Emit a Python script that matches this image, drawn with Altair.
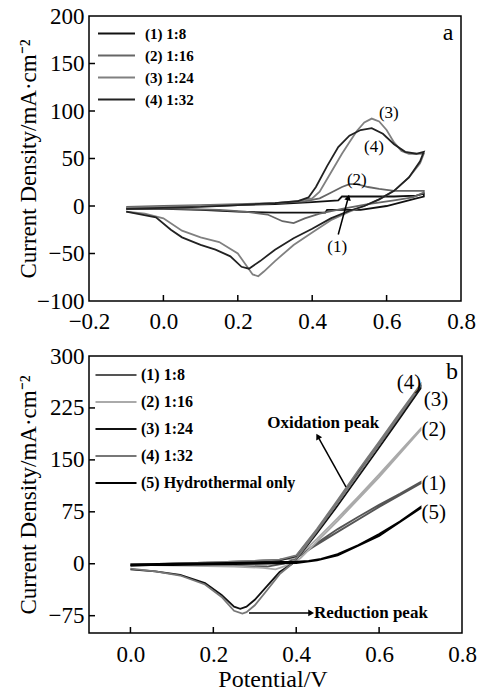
import altair as alt
import pandas as pd

FONT = "Liberation Serif"

# ---------------- Panel a data (CV loops) ----------------
a_names = ["(1) 1:8", "(2) 1:16", "(3) 1:24", "(4) 1:32"]
a_colors = ["#111111", "#666666", "#808080", "#222222"]

a1_x = [-0.1, 0.0, 0.1, 0.2, 0.3, 0.4, 0.47, 0.48, 0.55, 0.62, 0.68, 0.70,
        0.70, 0.68, 0.60, 0.53, 0.44, 0.435, 0.30, 0.20, 0.10, 0.0, -0.1]
a1_y = [-2, -1, 0, 1, 2, 4, 6, 10, 10, 10, 11, 13,
        10, 8, 0, -4, -4, -7, -7, -6, -4, -3, -3]

a2_x = [-0.1, 0.0, 0.1, 0.2, 0.3, 0.38, 0.42, 0.45, 0.48, 0.50, 0.52, 0.55, 0.58, 0.62, 0.66, 0.70,
        0.70, 0.67, 0.62, 0.55, 0.48, 0.42, 0.38, 0.35, 0.32, 0.28, 0.22, 0.15, 0.05, -0.1]
a2_y = [-1, 0, 1, 2, 3, 5, 8, 14, 20, 23, 23, 20, 18, 16, 16, 16,
        14, 9, 6, 2, -3, -8, -13, -18, -16, -9, -6, -4, -3, -2]

a3_x = [-0.1, 0.0, 0.1, 0.2, 0.3, 0.36, 0.40, 0.42, 0.45, 0.48, 0.50, 0.52, 0.54, 0.56, 0.58, 0.60,
        0.62, 0.64, 0.66, 0.70,
        0.70, 0.69, 0.66, 0.62, 0.58, 0.54, 0.50, 0.45, 0.40, 0.35, 0.30, 0.27, 0.255, 0.24, 0.20,
        0.15, 0.10, 0.05, 0.0, -0.05, -0.1]
a3_y = [-2, -1, 0, 1, 3, 5, 8, 15, 35, 55, 67, 79, 88, 92, 89, 80,
        67, 58, 55, 55,
        55, 45, 30, 16, 7, 0, -6, -15, -28, -41, -58, -69, -74, -72, -50,
        -38, -33, -26, -13, -8, -6]

a4_x = [-0.1, 0.0, 0.1, 0.2, 0.3, 0.36, 0.39, 0.41, 0.44, 0.47, 0.50, 0.53, 0.56, 0.59, 0.62, 0.65,
        0.68, 0.70,
        0.70, 0.69, 0.66, 0.62, 0.58, 0.54, 0.50, 0.45, 0.40, 0.35, 0.30, 0.26, 0.23, 0.21, 0.18,
        0.14, 0.10, 0.05, 0.02, -0.02, -0.1]
a4_y = [-3, -2, -1, 1, 3, 5, 9, 20, 42, 62, 74, 80, 82, 76, 65, 57,
        55, 57,
        57, 47, 30, 16, 7, 0, -5, -13, -24, -34, -46, -58, -66, -64, -53,
        -46, -41, -33, -25, -12, -6]

a_ticks_x = [0.0, 0.2, 0.4, 0.6]
a_ticks_y = [-50, 0, 50, 100, 150]

a_lbl_text = ["(1)", "(2)", "(3)", "(4)", "a"]
a_lbl_x = [0.467, 0.52, 0.606, 0.566, 0.765]
a_lbl_y = [-43, 27, 98, 62, 182]
a_lbl_size = [17, 17, 17, 17, 24]

a_arrow_x = [0.470, 0.497]
a_arrow_y = [-30, 9]

# ---------------- Panel b data ----------------
b_names = ["(1) 1:8", "(2) 1:16", "(3) 1:24", "(4) 1:32", "(5) Hydrothermal only"]
b_colors = ["#555555", "#aaaaaa", "#111111", "#777777", "#000000"]

b1_x = [0.0, 0.1, 0.2, 0.3, 0.36, 0.40, 0.45, 0.50, 0.55, 0.60, 0.65, 0.70,
        0.70, 0.6, 0.5, 0.44, 0.40, 0.37, 0.33, 0.25, 0.15, 0.05, 0.0]
b1_y = [-1, 0, 2, 4, 6, 8, 30, 50, 68, 85, 101, 118,
        116, 82, 46, 24, 8, 0, -4, -3, -2, -2, -2]

b2_x = [0.0, 0.1, 0.2, 0.3, 0.36, 0.40, 0.45, 0.50, 0.55, 0.60, 0.65, 0.70,
        0.70, 0.6, 0.5, 0.45, 0.41, 0.38, 0.35, 0.32, 0.25, 0.15, 0.05, 0.0]
b2_y = [-1, 0, 2, 4, 6, 8, 36, 66, 97, 129, 162, 195,
        193, 125, 62, 32, 8, -2, -8, -6, -4, -3, -2, -2]

b3_x = [0.0, 0.1, 0.2, 0.3, 0.36, 0.40, 0.45, 0.50, 0.55, 0.60, 0.65, 0.70,
        0.70, 0.65, 0.60, 0.55, 0.50, 0.45, 0.41, 0.39, 0.36, 0.33, 0.30, 0.28, 0.265, 0.25,
        0.22, 0.18, 0.12, 0.06, 0.0]
b3_y = [-3, -1, 1, 3, 5, 11, 48, 90, 132, 173, 214, 255,
        253, 210, 168, 126, 84, 44, 14, 0, -12, -32, -52, -62, -65, -62,
        -45, -28, -16, -11, -8]

b4_x = [0.0, 0.1, 0.2, 0.3, 0.36, 0.40, 0.45, 0.50, 0.55, 0.60, 0.65, 0.70,
        0.70, 0.65, 0.60, 0.55, 0.50, 0.45, 0.41, 0.39, 0.36, 0.33, 0.30, 0.28, 0.27, 0.25,
        0.22, 0.18, 0.12, 0.06, 0.0]
b4_y = [-2, 0, 2, 4, 6, 12, 50, 92, 135, 176, 218, 259,
        257, 214, 172, 130, 88, 47, 15, 0, -15, -38, -60, -70, -72, -68,
        -48, -30, -17, -11, -7]

b5_x = [0.0, 0.1, 0.2, 0.3, 0.4, 0.43, 0.46, 0.50, 0.55, 0.60, 0.65, 0.70,
        0.70, 0.6, 0.5, 0.45, 0.4, 0.3, 0.2, 0.1, 0.0]
b5_y = [-1, 0, 1, 2, 3, 4, 7, 14, 27, 43, 61, 82,
        80, 40, 12, 5, 1, 0, -1, -2, -2]

b_ticks_x = [0.0, 0.2, 0.4, 0.6]
b_ticks_y = [-75, 0, 75, 150, 225]

b_lbl_text = ["(4)", "(3)", "(2)", "(1)", "(5)", "b"]
b_lbl_x = [0.672, 0.737, 0.732, 0.732, 0.732, 0.776]
b_lbl_y = [261, 236, 193, 115, 73, 277]
b_lbl_size = [21, 21, 21, 21, 21, 24]

ox_text = ["Oxidation peak"]
ox_x = [0.465]
ox_y = [203]
red_text = ["Reduction peak"]
red_x = [0.443]
red_y = [-71]

b_ox_x = [0.520, 0.452]
b_ox_y = [111, 184]
b_red_x = [0.286, 0.436]
b_red_y = [-71, -71]


def loops(names, xs, ys):
    rows = []
    for n, xx, yy in zip(names, xs, ys):
        for i, (x, y) in enumerate(zip(xx, yy)):
            rows.append({"x": x, "y": y, "s": n, "o": i})
    return pd.DataFrame(rows)


LEG_PATH = "M-3,0H3"


def panel(df, names, colors, xdom, ydom, xvals, yvals, W, H, ticks_x, ticks_y,
          legend, show_xtitle, xlabpad):
    if show_xtitle:
        xaxis = alt.Axis(values=xvals, format=".1f", grid=False, ticks=False, domain=False,
                         labelFont=FONT, labelFontSize=23, labelColor="black",
                         labelPadding=xlabpad, labelFlush=False, labelOverlap=False,
                         title="Potential/V",
                         titleFont=FONT, titleFontSize=24, titleFontWeight="normal",
                         titleColor="black", titleBaseline="middle", titleY=46,
                         titleX=W / 2 - 3)
    else:
        xaxis = alt.Axis(values=xvals, format=".1f", grid=False, ticks=False, domain=False,
                         labelFont=FONT, labelFontSize=23, labelColor="black",
                         labelPadding=xlabpad, labelFlush=False, labelOverlap=False,
                         title=None)
    yaxis = alt.Axis(values=yvals, format="d", grid=False, ticks=False, domain=False,
                     labelFont=FONT, labelFontSize=23, labelColor="black",
                     labelPadding=5, labelOverlap=False,
                     title="Current Density/mA·cm⁻²", titleFont=FONT, titleFontSize=23,
                     titleFontWeight="normal", titleColor="black",
                     titleX=-49, titleY=H / 2, titleAlign="center", titleBaseline="bottom",
                     titleAngle=270)
    lines = alt.Chart(df).mark_line(strokeWidth=1.8).encode(
        x=alt.X("x:Q", scale=alt.Scale(domain=xdom, nice=False, zero=False), axis=xaxis),
        y=alt.Y("y:Q", scale=alt.Scale(domain=ydom, nice=False, zero=False), axis=yaxis),
        color=alt.Color("s:N", scale=alt.Scale(domain=names, range=colors), legend=legend),
        order="o:Q",
        detail="s:N",
    )
    tx = alt.Chart(pd.DataFrame({"x": ticks_x})).mark_rule(color="black", strokeWidth=1.5).encode(
        x="x:Q", y=alt.value(H), y2=alt.value(H - 6))
    ty = alt.Chart(pd.DataFrame({"y": ticks_y})).mark_rule(color="black", strokeWidth=1.5).encode(
        y="y:Q", x=alt.value(0), x2=alt.value(6))
    return lines, tx, ty


def line2(xs, ys):
    return alt.Chart(pd.DataFrame({"x": xs, "y": ys, "o": list(range(len(xs)))})).mark_line(
        color="black", strokeWidth=1.5).encode(x="x:Q", y="y:Q", order="o:Q")


def head(xs, ys, ang):
    return alt.Chart(pd.DataFrame({"x": xs[-1:], "y": ys[-1:]})).mark_point(
        shape="triangle-up", filled=True, color="black", size=45, angle=ang, opacity=1).encode(
        x="x:Q", y="y:Q")


def labels(xs, ys, ts, fs):
    return alt.Chart(pd.DataFrame({"x": xs, "y": ys, "t": ts, "fs": fs})).mark_text(
        font=FONT, color="black", align="center", baseline="middle").encode(
        x="x:Q", y="y:Q", text="t:N", size=alt.Size("fs:Q", scale=None, legend=None))


# ---- panel a ----
W1, H1 = 372, 285
dfa = loops(a_names, [a1_x, a2_x, a3_x, a4_x], [a1_y, a2_y, a3_y, a4_y])
leg_a = alt.Legend(orient="none", legendX=20, legendY=10, title=None, symbolType=LEG_PATH,
                   symbolSize=152, symbolStrokeWidth=2, labelFont=FONT, labelFontWeight="bold",
                   labelFontSize=15, labelColor="black", labelOffset=21, rowPadding=6,
                   padding=0)
la, txa, tya = panel(dfa, a_names, a_colors, [-0.2, 0.8], [-100, 200],
                     [-0.2, 0.0, 0.2, 0.4, 0.6, 0.8], [-100, -50, 0, 50, 100, 150, 200],
                     W1, H1, a_ticks_x, a_ticks_y, leg_a, False, 9)
top = alt.layer(la, txa, tya, labels(a_lbl_x, a_lbl_y, a_lbl_text, a_lbl_size),
                line2(a_arrow_x, a_arrow_y), head(a_arrow_x, a_arrow_y, 15)).properties(
    width=W1, height=H1)

# ---- panel b ----
W2, H2 = 373, 277
dfb = loops(b_names, [b1_x, b2_x, b3_x, b4_x, b5_x], [b1_y, b2_y, b3_y, b4_y, b5_y])
leg_b = alt.Legend(orient="none", legendX=19, legendY=11, title=None, symbolType=LEG_PATH,
                   symbolSize=187, symbolStrokeWidth=2, labelFont=FONT, labelFontWeight="bold",
                   labelFontSize=16, labelColor="black", labelOffset=17, rowPadding=11,
                   padding=0)
lb, txb, tyb = panel(dfb, b_names, b_colors, [-0.1, 0.8], [-100, 300],
                     [0.0, 0.2, 0.4, 0.6, 0.8], [-75, 0, 75, 150, 225, 300],
                     W2, H2, b_ticks_x, b_ticks_y, leg_b, True, 10)
ox_note = alt.Chart(pd.DataFrame({"x": ox_x, "y": ox_y, "t": ox_text})).mark_text(
    font=FONT, color="black", fontWeight="bold", fontSize=17, baseline="middle",
    align="center").encode(x="x:Q", y="y:Q", text="t:N")
red_note = alt.Chart(pd.DataFrame({"x": red_x, "y": red_y, "t": red_text})).mark_text(
    font=FONT, color="black", fontWeight="bold", fontSize=17, baseline="middle",
    align="left").encode(x="x:Q", y="y:Q", text="t:N")
bottom = alt.layer(lb, txb, tyb, labels(b_lbl_x, b_lbl_y, b_lbl_text, b_lbl_size),
                   ox_note, red_note,
                   line2(b_ox_x, b_ox_y), line2(b_red_x, b_red_y),
                   head(b_ox_x, b_ox_y, 331), head(b_red_x, b_red_y, 90)).properties(
    width=W2, height=H2)

chart = alt.vconcat(top, bottom, spacing=10).resolve_scale(color="independent").properties(
    padding={"left": 16, "top": 4, "right": 0, "bottom": 0},
    background="white",
).configure_view(stroke="black", strokeWidth=1.5)

chart.save("out.html", embed_options={"renderer": "svg", "actions": False})
